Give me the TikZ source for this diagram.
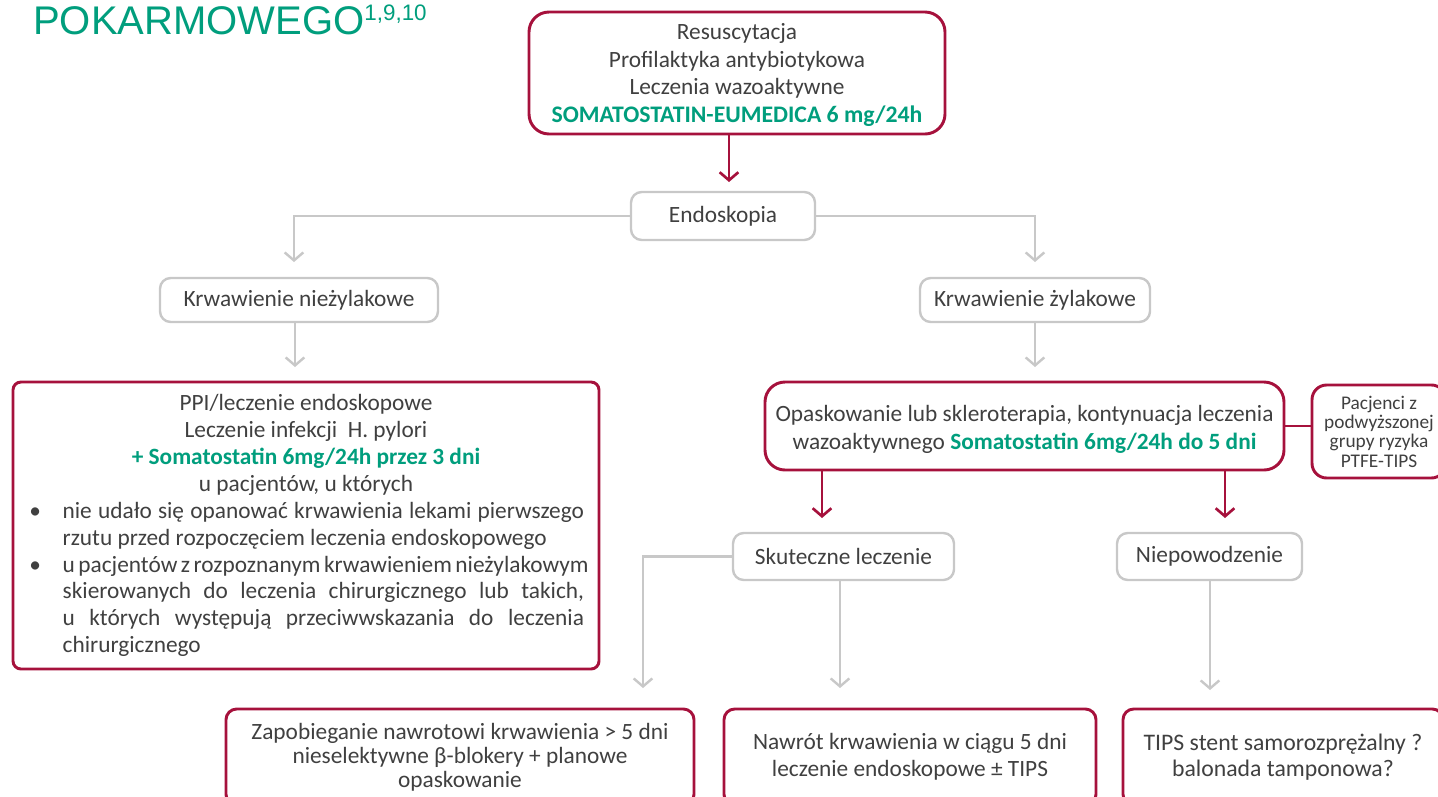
\documentclass[tikz,border=0pt]{standalone}
\usepackage{fontspec}
\setmainfont{Carlito}
\newfontfamily\titlefont{Liberation Sans}
\usetikzlibrary{arrows.meta}
\definecolor{grn}{RGB}{0,158,125}
\definecolor{crim}{RGB}{166,17,60}
\definecolor{lgr}{RGB}{200,200,200}
\definecolor{txt}{RGB}{64,64,64}
\begin{document}
\begin{tikzpicture}[x=0.75pt,y=-0.75pt,
  every node/.style={font=\fontsize{17.5}{20}\selectfont, text=txt, inner sep=0pt, align=center},
  redbox/.style={draw=crim, line width=2.2pt, rounded corners=#1, fill=white},
  redbox/.default=12pt,
  graybox/.style={draw=lgr, line width=1.8pt, rounded corners=8pt, fill=white},
  garrow/.style={draw=lgr, line width=1.8pt, -{Straight Barb[length=6pt,width=14pt]}},
  rarrow/.style={draw=crim, line width=2pt, -{Straight Barb[length=6pt,width=14pt]}},
  rline/.style={draw=crim, line width=2pt}]
\useasboundingbox (0,0) rectangle (1438,796);
\fill[white] (0,0) rectangle (1438,796);
\clip (0,0) rectangle (1438,796);

% title
\node[anchor=base west, text=grn, font=\titlefont\fontsize{30}{30}\selectfont] (title) at (33,34)
  {POKARMOWEGO\raisebox{9.75pt}{\fontsize{16.8}{16.8}\selectfont 1,9,10}};

% top box
\node[redbox=15pt, minimum width=312pt, minimum height=91.5pt] (top) at (737,73) {};
\node[font=\fontsize{17.5}{20.6}\selectfont] (toptext) at (737,75)
  {Resuscytacja\\Profilaktyka antybiotykowa\\Leczenia wazoaktywne\\{\fontsize{17.8}{20.6}\selectfont\bfseries\color{grn}SOMATOSTATIN-EUMEDICA 6 mg/24h}};

\node[graybox, minimum width=138pt, minimum height=36pt] (endo) at (723,216) {Endoskopia};
\node[graybox, minimum width=208.5pt, minimum height=33pt] (knz) at (299,300) {Krwawienie nieżylakowe};
\node[graybox, minimum width=172.5pt, minimum height=33pt] (kz) at (1035,300) {Krwawienie żylakowe};

% left big box
\node[redbox=6pt, minimum width=439.5pt, minimum height=215.25pt, align=left] (lbox) at (306,525.5)
{\begin{minipage}{417pt}\fontsize{17.5}{20.2}\selectfont\centering
PPI/leczenie endoskopowe\\
Leczenie infekcji\ \ H. pylori\\
{\bfseries\color{grn}+ Somatostatin 6mg/24h przez 3 dni}\\
u pacjentów, u których\\
\makebox[417pt][l]{\makebox[26pt][l]{\hspace{1pt}\textbullet}\makebox[391pt][s]{nie udało się opanować krwawienia lekami pierwszego}}\\
\makebox[417pt][l]{\hspace{26pt}rzutu przed rozpoczęciem leczenia endoskopowego}\\
\makebox[417pt][l]{\makebox[26pt][l]{\hspace{1pt}\textbullet}\makebox[391pt][s]{u pacjentów z rozpoznanym krwawieniem nieżylakowym}}\\
\makebox[417pt][l]{\hspace{26pt}\makebox[391pt][s]{skierowanych do leczenia chirurgicznego lub takich,}}\\
\makebox[417pt][l]{\hspace{26pt}\makebox[391pt][s]{u których występują przeciwwskazania do leczenia}}\\
\makebox[417pt][l]{\hspace{26pt}chirurgicznego}
\end{minipage}};

% right red box
\node[redbox=15pt, minimum width=389.25pt, minimum height=66pt] (rbox) at (1024.5,426) {};
\node[font=\fontsize{17.5}{21}\selectfont] (rtext) at (1024.5,429)
  {Opaskowanie lub skleroterapia, kontynuacja leczenia\\wazoaktywnego {\bfseries\color{grn}Somatostatin 6mg/24h do 5 dni}};
\node[redbox=11pt, minimum width=100.5pt, minimum height=69.75pt, font=\fontsize{14.5}{14.5}\selectfont] (pbox) at (1379,431.5)
  {Pacjenci z\\podwyższonej\\grupy ryzyka\\PTFE-TIPS};

\node[graybox, minimum width=165.75pt, minimum height=35.25pt] (sk) at (843.5,556.5) {Skuteczne leczenie};
\node[graybox, minimum width=138.75pt, minimum height=35.25pt] (np) at (1209.5,556.5) {Niepowodzenie};

% bottom boxes
\node[redbox=8pt, minimum width=351pt, minimum height=72pt, font=\fontsize{17.5}{18}\selectfont] (b1) at (460,757)
  {Zapobieganie nawrotowi krwawienia > 5 dni\\nieselektywne β-blokery + planowe\\opaskowanie};
\node[redbox=8pt, minimum width=279pt, minimum height=72pt, font=\fontsize{17.5}{20}\selectfont] (b2) at (910,757)
  {Nawrót krwawienia w ciągu 5 dni\\leczenie endoskopowe ± TIPS};
\node[redbox=8pt, minimum width=240pt, minimum height=72pt, font=\fontsize{17.8}{20}\selectfont] (b3) at (1283,757)
  {TIPS stent samorozprężalny ?\\balonada tamponowa?};

% connectors
\coordinate (t1) at (729,182);
\draw[rarrow] (top.south -| t1) -- (t1);
\coordinate (a1) at (294,262);
\coordinate (a2) at (1035,262);
\draw[garrow] (endo.west) -| (a1);
\draw[garrow] (endo.east) -| (a2);
\coordinate (a3) at (295,367);
\coordinate (a4) at (1035,367);
\draw[garrow] (knz.south -| a3) -- (a3);
\draw[garrow] (kz.south -| a4) -- (a4);
\draw[rline] (rbox.east) -- (rbox.east -| pbox.west);
\coordinate (r1) at (822,518);
\coordinate (r2) at (1225,518);
\draw[rarrow] (rbox.south -| r1) -- (r1);
\draw[rarrow] (rbox.south -| r2) -- (r2);
\coordinate (g1) at (643,688);
\coordinate (g2) at (840,688);
\coordinate (g3) at (1210,690);
\draw[garrow] (sk.west) -| (g1);
\draw[garrow] (sk.south -| g2) -- (g2);
\draw[garrow] (np.south -| g3) -- (g3);
\end{tikzpicture}
\end{document}
